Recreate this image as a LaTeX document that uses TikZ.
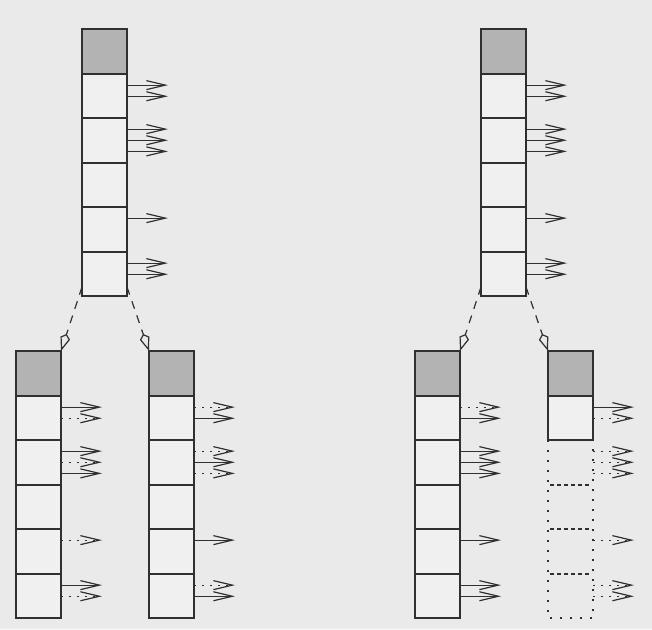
\documentclass[tikz,border=0pt]{standalone}
\usetikzlibrary{arrows.meta}
\definecolor{bg}{HTML}{EAEAEA}
\definecolor{cellc}{HTML}{F0F0F0}
\definecolor{grayc}{HTML}{B3B3B3}
\definecolor{ink}{HTML}{303030}
\newcommand\myarr[3]{\draw[#3] ([yshift=-#2*11.125pt]#1.north east) -- ++(41,0);}
\newcommand\mycolumn[4]{% name, x, y, style of cells 2..5
  \node[hd, minimum height=45pt] (#10) at (#2,#3) {};
  \node[cell, minimum height=44pt] (#11) at (#2,#3+45) {};
  \foreach \i/\o/\h in {2/89/45,3/134/44,4/178/45,5/223/44}
    \node[#4, minimum height=\h pt] (#1\i) at (#2,#3+\o) {};
}
\begin{document}
\begin{tikzpicture}[x=1pt,y=-1pt,
  cell/.style={draw=ink, fill=cellc, line width=1.4pt, minimum width=45pt, inner sep=0pt, outer sep=0pt, anchor=north west},
  hd/.style={cell, fill=grayc},
  ghost/.style={cell, draw=none, fill=none},
  ptr/.style={draw=ink, line width=1.2pt, -{Straight Barb[length=19pt,width=9pt]}},
  dptr/.style={ptr, dash pattern=on 1.6pt off 6.4pt},
  link/.style={draw=ink, line width=1.2pt, dash pattern=on 8pt off 7pt, -{Kite[open, length=18pt, width=10pt, inset=4.5pt]}},
  dotbox/.style={draw=ink, line width=1.4pt, dash pattern=on 1.6pt off 8.4pt},
  sep/.style={draw=ink, line width=1.3pt, dash pattern=on 4pt off 3pt}]
\path[use as bounding box, fill=bg] (0,0) rectangle (652,629);

\mycolumn{A}{82}{29}{cell}
\mycolumn{E}{481}{29}{cell}
\mycolumn{B}{16}{351}{cell}
\mycolumn{C}{149}{351}{cell}
\mycolumn{F}{415}{351}{cell}
\mycolumn{G}{548}{351}{ghost}

% dotted part of G
\draw[dotbox] (G1.south west) -- (G5.south west) -- (G5.south east) -- (G1.south east);
\foreach \i in {2,3,4} \draw[sep] ([xshift=2pt]G\i.south west) -- ([xshift=-2pt]G\i.south east);

% pointers top columns
\foreach \c in {A,E}{
  \myarr{\c1}{1}{ptr} \myarr{\c1}{2}{ptr}
  \myarr{\c2}{1}{ptr} \myarr{\c2}{2}{ptr} \myarr{\c2}{3}{ptr}
  \myarr{\c4}{1}{ptr}
  \myarr{\c5}{1}{ptr} \myarr{\c5}{2}{ptr}
}
% B
\myarr{B1}{1}{ptr} \myarr{B1}{2}{dptr}
\myarr{B2}{1}{ptr} \myarr{B2}{2}{dptr} \myarr{B2}{3}{ptr}
\myarr{B4}{1}{dptr}
\myarr{B5}{1}{ptr} \myarr{B5}{2}{dptr}
% C
\myarr{C1}{1}{dptr} \myarr{C1}{2}{ptr}
\myarr{C2}{1}{dptr} \myarr{C2}{2}{ptr} \myarr{C2}{3}{dptr}
\myarr{C4}{1}{ptr}
\myarr{C5}{1}{dptr} \myarr{C5}{2}{ptr}
% F
\myarr{F1}{1}{dptr} \myarr{F1}{2}{ptr}
\myarr{F2}{1}{ptr} \myarr{F2}{2}{ptr} \myarr{F2}{3}{ptr}
\myarr{F4}{1}{ptr}
\myarr{F5}{1}{ptr} \myarr{F5}{2}{ptr}
% G
\myarr{G1}{1}{ptr} \myarr{G1}{2}{dptr}
\myarr{G2}{1}{dptr} \myarr{G2}{2}{dptr} \myarr{G2}{3}{dptr}
\myarr{G4}{1}{dptr}
\myarr{G5}{1}{dptr} \myarr{G5}{2}{dptr}

% links
\draw[link] ([yshift=9pt]A5.south west) -- (B0.north east);
\draw[link] ([yshift=9pt]A5.south east) -- (C0.north west);
\draw[link] ([yshift=9pt]E5.south west) -- (F0.north east);
\draw[link] ([yshift=9pt]E5.south east) -- (G0.north west);
\end{tikzpicture}
\end{document}
